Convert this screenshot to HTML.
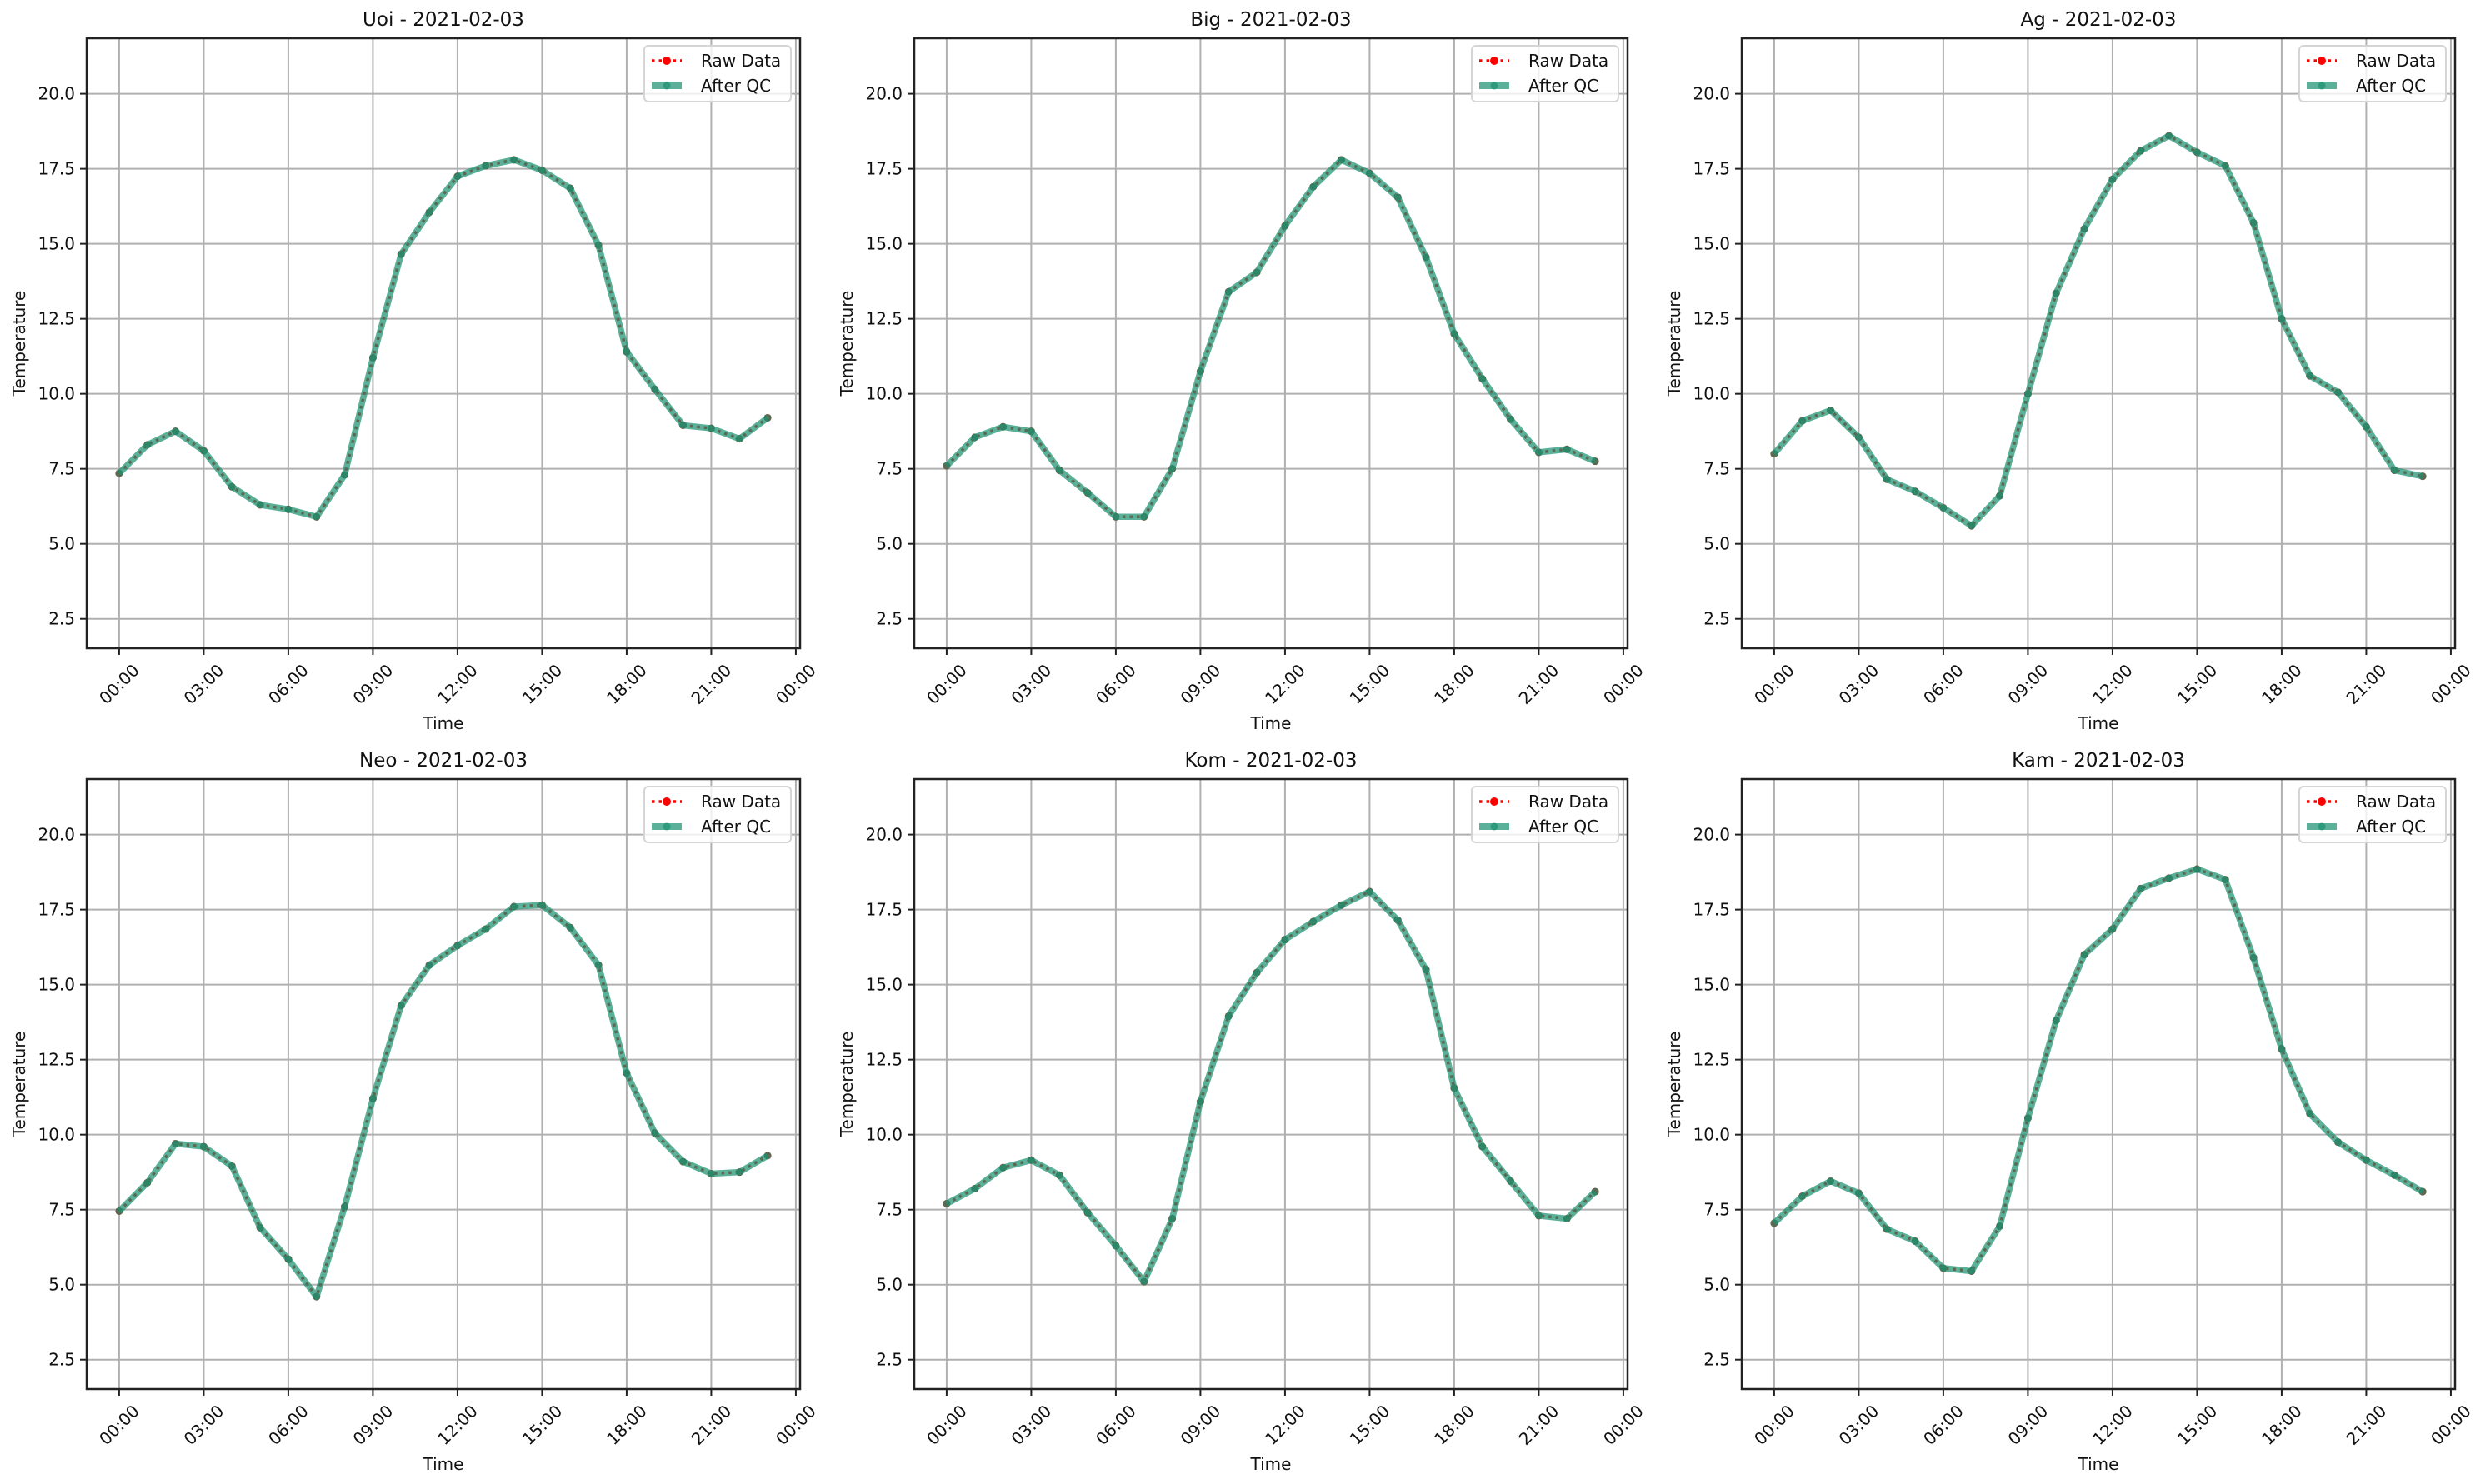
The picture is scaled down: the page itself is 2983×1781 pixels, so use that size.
<!DOCTYPE html>
<html><head><meta charset="utf-8"><style>
html,body{margin:0;padding:0;background:#fff;}
svg{display:block;font-family:"DejaVu Sans","Liberation Sans",sans-serif;}
</style></head><body>
<svg id="fig" width="2983" height="1781" viewBox="0 0 2983 1781" xmlns="http://www.w3.org/2000/svg"></svg>
<script>
const stations = ["Uoi","Big","Ag","Neo","Kom","Kam"];
const dateLabel = "2021-02-03";
const hours = [0,1,2,3,4,5,6,7,8,9,10,11,12,13,14,15,16,17,18,19,20,21,22,23];
const uoiValues = [7.35,8.3,8.75,8.1,6.9,6.3,6.15,5.9,7.3,11.2,14.65,16.05,17.25,17.6,17.8,17.45,16.85,14.95,11.4,10.15,8.95,8.85,8.5,9.2];
const bigValues = [7.6,8.55,8.9,8.75,7.45,6.7,5.9,5.9,7.5,10.75,13.4,14.05,15.6,16.9,17.8,17.35,16.55,14.55,12.0,10.5,9.15,8.05,8.15,7.75];
const agValues = [8.0,9.1,9.45,8.55,7.15,6.75,6.2,5.6,6.6,10.0,13.35,15.5,17.15,18.1,18.6,18.05,17.6,15.7,12.5,10.6,10.05,8.9,7.45,7.25];
const neoValues = [7.45,8.4,9.7,9.6,8.95,6.9,5.85,4.6,7.6,11.2,14.3,15.65,16.3,16.85,17.6,17.65,16.9,15.65,12.05,10.05,9.1,8.7,8.75,9.3];
const komValues = [7.7,8.2,8.9,9.15,8.65,7.4,6.3,5.1,7.2,11.1,13.95,15.4,16.5,17.1,17.65,18.1,17.15,15.5,11.55,9.6,8.45,7.3,7.2,8.1];
const kamValues = [7.05,7.95,8.45,8.05,6.85,6.45,5.55,5.45,6.95,10.55,13.8,16.0,16.85,18.2,18.55,18.85,18.5,15.9,12.85,10.7,9.75,9.15,8.65,8.1];
const seriesValues = [uoiValues,bigValues,agValues,neoValues,komValues,kamValues];
const yTicks = [2.5,5.0,7.5,10.0,12.5,15.0,17.5,20.0];
const xTickHours = [0,3,6,9,12,15,18,21,24];
const xTickLabels = ["00:00","03:00","06:00","09:00","12:00","15:00","18:00","21:00","00:00"];

const NS="http://www.w3.org/2000/svg";
const svg=document.getElementById('fig');
function mk(tag,attrs,parent){const e=document.createElementNS(NS,tag);for(const k in attrs)e.setAttribute(k,attrs[k]);(parent||svg).appendChild(e);return e;}

const W=856,H=732,X0=[104,1097,2090],Y0=[46,935];
const xMin=-1.15,xMax=24.15,yMin=1.52,yMax=21.85;
const QC='#1a9270',QCA=0.72;

stations.forEach((name,i)=>{
  const L=X0[i%3],T=Y0[Math.floor(i/3)];
  const sx=h=>L+(h-xMin)/(xMax-xMin)*W;
  const sy=v=>T+(yMax-v)/(yMax-yMin)*H;
  const g=mk('g',{});
  
  
  xTickHours.forEach(h=>{const l=mk('line',{x1:sx(h),x2:sx(h),y1:T,y2:T+H,stroke:'#b0b0b0','stroke-width':2},g);
    });
  yTicks.forEach(v=>{const l=mk('line',{x1:L,x2:L+W,y1:sy(v),y2:sy(v),stroke:'#b0b0b0','stroke-width':2},g);
    });
  yTicks.forEach(v=>{mk('line',{x1:L-8,x2:L,y1:sy(v),y2:sy(v),stroke:'#222','stroke-width':2},g);
    const t=mk('text',{x:L-14,y:sy(v)+7,'text-anchor':'end','font-size':20,fill:'#111'},g);t.textContent=v.toFixed(1);
    });
  xTickHours.forEach((h,k)=>{mk('line',{x1:sx(h),x2:sx(h),y1:T+H,y2:T+H+8,stroke:'#222','stroke-width':2},g);
    const cx=sx(h),cy=T+H+43;
    const t=mk('text',{x:cx,y:cy+7,'text-anchor':'middle','font-size':20,fill:'#111',transform:`rotate(-45 ${cx} ${cy})`},g);t.textContent=xTickLabels[k];
    });
  const pts=hours.map((h,k)=>sx(h)+','+sy(seriesValues[i][k])).join(' ');
  const raw=mk('polyline',{points:pts,fill:'none',stroke:'#ff0000','stroke-width':3.5,'stroke-dasharray':'3.5 5'},g);
  
  hours.forEach((h,k)=>{const c=mk('circle',{cx:sx(h),cy:sy(seriesValues[i][k]),r:4.5,fill:'#ff0000'},g);
    });
  const qc=mk('polyline',{points:pts,fill:'none',stroke:QC,'stroke-opacity':QCA,'stroke-width':7.5,'stroke-linejoin':'round'},g);
  
  hours.forEach((h,k)=>{const c=mk('circle',{cx:sx(h),cy:sy(seriesValues[i][k]),r:4.5,fill:QC,'fill-opacity':QCA},g);
    });
  const fr=mk('rect',{x:L,y:T,width:W,height:H,fill:'none',stroke:'#222','stroke-width':2.5},g);
  
  const ti=mk('text',{x:L+W/2,y:T-15,'text-anchor':'middle','font-size':23,fill:'#111'},g);ti.textContent=name+' - '+dateLabel;
  
  const xl=mk('text',{x:L+W/2,y:T+H+97,'text-anchor':'middle','font-size':20,fill:'#111'},g);xl.textContent='Time';
  
  const yx=L-74,yy=T+H/2;
  const yl=mk('text',{x:yx,y:yy,'text-anchor':'middle','font-size':20,fill:'#111',transform:`rotate(-90 ${yx} ${yy})`},g);yl.textContent='Temperature';
  
  const lg=mk('g',{},g);
  
  mk('rect',{x:L+W-187,y:T+9,width:176,height:67,rx:5,fill:'#fff','fill-opacity':0.8,stroke:'#d5d5d5','stroke-width':2},lg);
  const le1=mk('g',{},lg);
  mk('line',{x1:L+W-178,x2:L+W-142,y1:T+27,y2:T+27,stroke:'#ff0000','stroke-width':3.5,'stroke-dasharray':'3.5 5'},le1);
  mk('circle',{cx:L+W-160,cy:T+27,r:5,fill:'#ff0000'},le1);
  const t1=mk('text',{x:L+W-119,y:T+34,'font-size':20,fill:'#111'},le1);t1.textContent='Raw Data';
  const le2=mk('g',{},lg);
  mk('line',{x1:L+W-178,x2:L+W-142,y1:T+57,y2:T+57,stroke:QC,'stroke-opacity':QCA,'stroke-width':8},le2);
  mk('circle',{cx:L+W-160,cy:T+57,r:4.5,fill:QC,'fill-opacity':QCA},le2);
  const t2=mk('text',{x:L+W-119,y:T+64,'font-size':20,fill:'#111'},le2);t2.textContent='After QC';
});
</script>
</body></html>
